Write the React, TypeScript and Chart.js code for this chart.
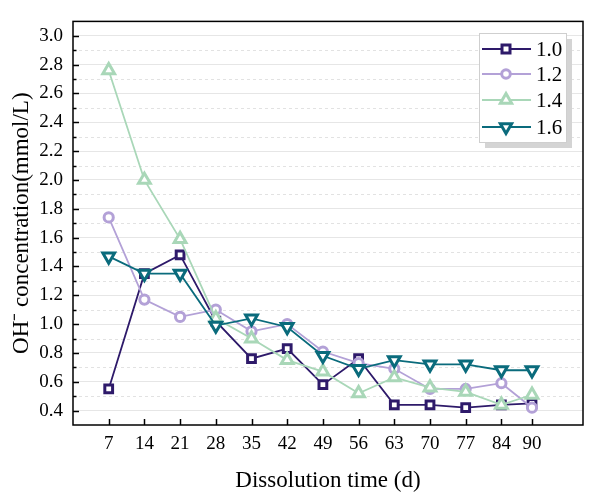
import React, { useEffect, useRef } from 'react';
import { Chart, registerables } from 'chart.js';

Chart.register(...registerables);

const days = [7, 14, 21, 28, 35, 42, 49, 56, 63, 70, 77, 84, 90];
const s10 = [0.55, 1.35, 1.48, 1.02, 0.76, 0.83, 0.58, 0.76, 0.44, 0.44, 0.42, 0.44, 0.45];
const s12 = [1.74, 1.17, 1.05, 1.10, 0.95, 1.0, 0.81, 0.73, 0.69, 0.55, 0.55, 0.59, 0.42];
const s14 = [2.76, 2.0, 1.59, 1.04, 0.9, 0.75, 0.67, 0.52, 0.63, 0.56, 0.53, 0.44, 0.51];
const s16 = [1.47, 1.35, 1.35, 0.99, 1.04, 0.98, 0.78, 0.69, 0.75, 0.72, 0.72, 0.68, 0.68];
const seriesLabels = ['1.0', '1.2', '1.4', '1.6'];
const seriesColors = ['#2e1a6a', '#b3a1d7', '#a9d7b8', '#0a6b7c'];
const seriesStyles = ['rect', 'circle', 'triangle', 'triangleDown'];
const yTicks = [0.4, 0.6, 0.8, 1.0, 1.2, 1.4, 1.6, 1.8, 2.0, 2.2, 2.4, 2.6, 2.8, 3.0];
const yMinor = [0.5, 0.7, 0.9, 1.1, 1.3, 1.5, 1.7, 1.9, 2.1, 2.3, 2.5, 2.7, 2.9];
const xTitle = 'Dissolution time (d)';
const yTitle = 'OH\u207B concentration(mmol/L)';

const FONT = "'Liberation Serif', 'Times New Roman', serif";

function markerPath(ctx: CanvasRenderingContext2D, style: string, x: number, y: number, s: number) {
  ctx.beginPath();
  if (style === 'rect') {
    ctx.rect(x - s, y - s, 2 * s, 2 * s);
  } else if (style === 'circle') {
    ctx.arc(x, y, s, 0, Math.PI * 2);
  } else {
    const base = style === 'triangle' ? -Math.PI / 2 : Math.PI / 2;
    for (let i = 0; i < 3; i++) {
      const a = base + (i * 2 * Math.PI) / 3;
      const px = x + Math.cos(a) * s;
      const py = y + Math.sin(a) * s;
      if (i === 0) ctx.moveTo(px, py);
      else ctx.lineTo(px, py);
    }
    ctx.closePath();
  }
}

const framePlugin = {
  id: 'framePlugin',
  beforeDatasetsDraw(chart: any) {
    const { ctx, chartArea: a, scales } = chart;
    const y = scales.y;
    ctx.save();
    ctx.strokeStyle = '#e2e2e2';
    ctx.lineWidth = 1;
    ctx.setLineDash([3, 3]);
    for (const v of yMinor) {
      const py = Math.round(y.getPixelForValue(v)) + 0.5;
      ctx.beginPath();
      ctx.moveTo(a.left, py);
      ctx.lineTo(a.right, py);
      ctx.stroke();
    }
    ctx.restore();
  },
  afterDraw(chart: any) {
    const { ctx, chartArea: a, scales } = chart;
    const x = scales.x;
    const y = scales.y;
    ctx.save();
    ctx.strokeStyle = '#000';
    ctx.lineWidth = 1.5;
    ctx.setLineDash([]);
    for (const v of yTicks) {
      const py = Math.round(y.getPixelForValue(v)) + 0.5;
      ctx.beginPath();
      ctx.moveTo(a.left, py);
      ctx.lineTo(a.left + 6, py);
      ctx.stroke();
    }
    for (const v of yMinor) {
      const py = Math.round(y.getPixelForValue(v)) + 0.5;
      ctx.beginPath();
      ctx.moveTo(a.left, py);
      ctx.lineTo(a.left + 3.5, py);
      ctx.stroke();
    }
    for (const v of days) {
      const px = Math.round(x.getPixelForValue(v)) + 0.5;
      ctx.beginPath();
      ctx.moveTo(px, a.bottom);
      ctx.lineTo(px, a.bottom - 6);
      ctx.stroke();
    }
    ctx.strokeRect(a.left, a.top, a.right - a.left, a.bottom - a.top);

    // legend
    const lx = 479;
    const ly = 33;
    const lw = 87;
    const lh = 109;
    ctx.fillStyle = '#d4d4d4';
    ctx.fillRect(lx + 6, ly + 6, lw, lh);
    ctx.fillStyle = '#ffffff';
    ctx.fillRect(lx, ly, lw, lh);
    ctx.strokeStyle = '#cfcfcf';
    ctx.lineWidth = 1;
    ctx.strokeRect(lx + 0.5, ly + 0.5, lw, lh);
    const rows = [49, 74, 100, 127];
    ctx.font = `21px ${FONT}`;
    ctx.textBaseline = 'middle';
    ctx.textAlign = 'left';
    seriesLabels.forEach((lab, i) => {
      const ry = rows[i];
      ctx.strokeStyle = seriesColors[i];
      ctx.lineWidth = 1.8;
      ctx.beginPath();
      ctx.moveTo(482, ry);
      ctx.lineTo(531, ry);
      ctx.stroke();
      const sz = [4, 4.3, 6.5, 6.5][i];
      markerPath(ctx, seriesStyles[i], 506, ry, sz);
      ctx.fillStyle = '#fff';
      ctx.fill();
      ctx.lineWidth = 3;
      ctx.stroke();
      ctx.fillStyle = '#000';
      ctx.fillText(lab, 536, ry + 1);
    });
    ctx.restore();
  },
};

export default function App() {
  const ref = useRef<HTMLCanvasElement | null>(null);
  useEffect(() => {
    if (!ref.current) return;
    const series = [s10, s12, s14, s16];
    const radii = [5.5, 4.6, 6.8, 6.8];
    const datasets = series.map((s, i) => ({
      label: seriesLabels[i],
      data: s.map((v, j) => ({ x: days[j], y: v })),
      borderColor: seriesColors[i],
      backgroundColor: '#ffffff',
      borderWidth: 1.8,
      pointStyle: i === 3 ? 'triangle' : seriesStyles[i],
      pointRotation: i === 3 ? 180 : 0,
      pointRadius: radii[i],
      pointHoverRadius: radii[i],
      pointBorderWidth: 3,
      pointBackgroundColor: '#ffffff',
      pointBorderColor: seriesColors[i],
      order: 3 - i,
    }));
    const chart = new Chart(ref.current, {
      type: 'line',
      data: { datasets },
      options: {
        animation: false,
        responsive: false,
        devicePixelRatio: 1,
        layout: { padding: { top: 13, right: 13, left: 0, bottom: 0 } },
        plugins: { legend: { display: false }, tooltip: { enabled: false } },
        scales: {
          x: {
            type: 'linear',
            min: 0,
            max: 100,
            afterBuildTicks: (scale: any) => {
              scale.ticks = days.map((d) => ({ value: d }));
            },
            afterFit: (scale: any) => {
              scale.height = 79;
            },
            grid: { display: false, drawTicks: false },
            border: { display: false },
            ticks: {
              autoSkip: false,
              maxRotation: 0,
              padding: 8,
              color: '#000',
              font: { family: FONT, size: 19 },
              callback: (v: any) => String(v),
            },
            title: {
              display: true,
              text: xTitle,
              color: '#000',
              font: { family: FONT, size: 23 },
              padding: { top: 0, bottom: 9 },
            },
          },
          y: {
            type: 'linear',
            min: 0.3,
            max: 3.1,
            afterBuildTicks: (scale: any) => {
              scale.ticks = yTicks.map((v) => ({ value: v }));
            },
            afterFit: (scale: any) => {
              scale.width = 73;
            },
            grid: { color: '#e6e6e6', lineWidth: 1, drawTicks: false },
            border: { display: false },
            ticks: {
              padding: 10,
              color: '#000',
              font: { family: FONT, size: 19 },
              callback: (v: any) => Number(v).toFixed(1),
            },
            title: {
              display: true,
              text: yTitle,
              color: '#000',
              font: { family: FONT, size: 23 },
              padding: { top: 8, bottom: 0 },
            },
          },
        },
      },
      plugins: [framePlugin],
    } as any);
    return () => chart.destroy();
  }, []);
  return (
    <div style={{ position: 'fixed', left: 0, top: 0, width: 596, height: 504, background: '#fff' }}>
      <canvas ref={ref} width={596} height={504} style={{ width: 596, height: 504 }} />
    </div>
  );
}
